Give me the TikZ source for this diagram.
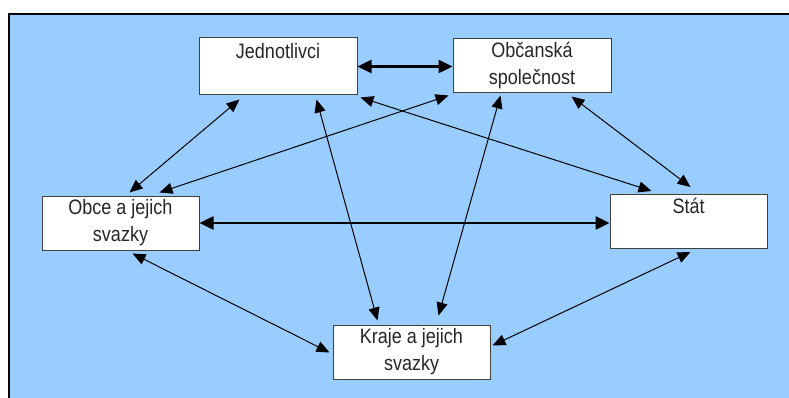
\documentclass[tikz,border=0pt]{standalone}
\usepackage{fontspec}
\usepackage{graphicx}
\setmainfont{Liberation Sans}
\usetikzlibrary{arrows.meta,calc}
\definecolor{bgblue}{RGB}{153,204,255}
\newcommand{\tl}[1]{\strut\scalebox{1}[1.16]{#1}}
\tikzset{
  box/.style={draw=black!75, line width=1pt, fill=white, inner sep=0pt, align=center,
    font=\fontsize{18}{27}\selectfont, text=black!85},
  thin/.style={line width=1pt, {Triangle[length=13pt,width=11pt]}-{Triangle[length=13pt,width=11pt]}},
  thick/.style={line width=2.5pt, {Triangle[length=14pt,width=13pt]}-{Triangle[length=14pt,width=13pt]}}
}
\begin{document}
\begin{tikzpicture}[x=1pt,y=-1pt]
\useasboundingbox (0,0) rectangle (789,398);
\fill[bgblue] (9,14) rectangle (789,398);
\draw[line width=2pt] (9,398) -- (9,14) -- (789,14);

\node[box, minimum width=158pt, minimum height=57pt] (J) at (278,66.5) {\tl{Jednotlivci}\\\strut};
\node[box, minimum width=158pt, minimum height=52pt] (O) at (532,66) {\tl{Občanská}\\\tl{společnost}};
\node[box, minimum width=157pt, minimum height=54pt] (Ob) at (120.5,223) {\tl{Obce a jejich}\\\tl{svazky}};
\node[box, minimum width=157pt, minimum height=51pt] (S) at (688.5,221.5) {\tl{Stát}\\\strut};
\node[box, minimum width=157pt, minimum height=54pt] (K) at (411.5,352) {\tl{Kraje a jejich}\\\tl{svazky}};

\draw[thick] (J.east) -- (J.east -| O.west);
\draw[thick] (Ob.east) -- (Ob.east -| S.west);

\draw[thin] ($(J.south west)+(41,4)$) -- ($(Ob.north west)+(88,-3)$);
\draw[thin] ($(O.south west)+(-4,2)$) -- ($(Ob.north west)+(118,-3)$);
\draw[thin] ($(J.south east)+(3,2)$) -- ($(S.north west)+(42,-3)$);
\draw[thin] ($(J.south west)+(118,4)$) -- ($(K.north west)+(45,-4)$);
\draw[thin] ($(O.south west)+(48,2)$) -- ($(K.north west)+(106,-9)$);
\draw[thin] ($(O.south west)+(119,3)$) -- ($(S.north west)+(81,-7)$);
\draw[thin] ($(Ob.south west)+(91,3)$) -- ($(K.north west)+(-3,28)$);
\draw[thin] ($(K.north east)+(2,21)$) -- ($(S.south west)+(81,3)$);
\end{tikzpicture}
\end{document}
